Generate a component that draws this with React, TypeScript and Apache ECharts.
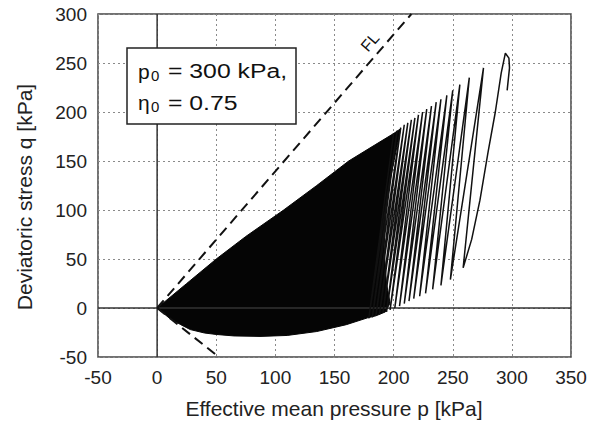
import React, { useEffect, useRef } from "react";
import * as echarts from "echarts";

// Axis ranges / ticks
const xMin = -50, xMax = 350, xStep = 50;
const yMin = -50, yMax = 300, yStep = 50;

// Initial loading hook and first unloading (p, q) starting from p0 = 300, q0 = 0.75 * p0
const hookP = [296, 298, 297.5, 294.5, 291, 286, 280, 273, 266];
const hookQ = [222, 245, 255, 260, 240, 200, 160, 110, 70];

// Cycle peaks and troughs
const bottomP = [258.8, 248, 240, 233, 227, 222, 217, 213, 209, 205, 201, 197, 194, 191, 188, 185, 182, 179];
const bottomQ = [41, 29, 23, 19, 15, 12, 9.5, 7, 4.5, 2, 0, -2, -4, -5, -6.5, -8, -9.5, -10.5];
const topP = [276, 264, 256, 250, 245, 240, 236, 232, 228, 224.5, 221, 218, 215, 212, 209, 206, 203, 200];
const topQ = [245, 235, 228, 222, 217, 213, 210, 206, 203, 200, 197, 194, 192, 189, 187, 184, 181, 178.5];

// Outline of the densely filled region (many overlapping cycles)
const denseP = [0, 10, 25, 50, 75, 107, 135, 162, 185, 200, 206, 202, 197, 193, 192, 194, 197, 193, 185, 178, 160, 135, 110, 87, 65, 50, 40, 28, 20, 10, 5];
const denseQ = [0, 10, 25, 50, 73, 100, 125, 150, 167, 178, 183, 160, 130, 100, 60, 25, 5, -4, -8, -10, -17, -24, -28, -29, -28.5, -27, -25.5, -22, -17, -10, -5];

// Reference lines
const flP = [0, 215];
const flQ = [0, 300];
const lowP = [0, 49];
const lowQ = [0, -47];

const FONT = '"Liberation Sans", Arial, Helvetica, sans-serif';

export default function App() {
  const ref = useRef<HTMLDivElement>(null);
  useEffect(() => {
    const chart = echarts.init(ref.current!, null, { renderer: "svg" });

    const path: number[][] = [];
    hookP.forEach((p, i) => path.push([p, hookQ[i]]));
    for (let i = 0; i < bottomP.length; i++) {
      path.push([bottomP[i], bottomQ[i]]);
      if (i < topP.length) path.push([topP[i], topQ[i]]);
    }
    const dense = denseP.map((p, i) => [p, denseQ[i]]);

    const label = { fontSize: 19, color: "#222", fontFamily: FONT };
    const split = { show: true, lineStyle: { type: [2, 3] as any, color: "#8a8a8a", width: 1 } };

    chart.setOption({
      animation: false,
      backgroundColor: "#fff",
      grid: { left: 98, top: 14, right: 32, bottom: 64, show: true, borderColor: "#444", borderWidth: 1.5, backgroundColor: "transparent" },
      xAxis: {
        type: "value", min: xMin, max: xMax, interval: xStep,
        axisLine: { show: false }, axisTick: { show: false },
        axisLabel: { ...label, margin: 11 }, splitLine: split,
      },
      yAxis: {
        type: "value", min: yMin, max: yMax, interval: yStep,
        axisLine: { show: false }, axisTick: { show: false },
        axisLabel: { ...label, margin: 11 }, splitLine: split,
      },
      series: [
        { type: "line", data: [[0, yMin], [0, yMax]], symbol: "none", lineStyle: { color: "#333", width: 1.5 }, silent: true },
        { type: "line", data: [[xMin, 0], [xMax, 0]], symbol: "none", lineStyle: { color: "#333", width: 1.5 }, silent: true },
        {
          type: "custom",
          data: [[0, 0]],
          renderItem: (_params: any, api: any) => ({
            type: "polygon",
            shape: { points: dense.map((d) => api.coord(d)) },
            style: { fill: "#050505", stroke: "#050505", lineWidth: 1 },
          }),
          silent: true,
        },
        { type: "line", data: path, symbol: "none", lineStyle: { color: "#111", width: 1.5 }, silent: true },
        { type: "line", data: flP.map((p, i) => [p, flQ[i]]), symbol: "none", lineStyle: { color: "#111", width: 2, type: [10, 6] }, silent: true },
        { type: "line", data: lowP.map((p, i) => [p, lowQ[i]]), symbol: "none", lineStyle: { color: "#111", width: 2, type: [10, 6] }, silent: true },
      ],
      graphic: [
        { type: "rect", shape: { x: 127, y: 48, width: 169, height: 76 }, style: { fill: "#fff", stroke: "#222", lineWidth: 1.5 }, z: 100 },
        { type: "text", x: 138, y: 71, z: 101, style: { text: "p", fontSize: 21, fontFamily: FONT, fill: "#111", verticalAlign: "middle" } },
        { type: "text", x: 151, y: 75, z: 101, style: { text: "0", fontSize: 15, fontFamily: FONT, fill: "#111", verticalAlign: "middle" } },
        { type: "text", x: 168, y: 71, scaleX: 1.18, z: 101, style: { text: "= 300 kPa,", fontSize: 21, fontFamily: FONT, fill: "#111", verticalAlign: "middle" } },
        { type: "text", x: 138, y: 102.5, z: 101, style: { text: "η", fontSize: 21, fontFamily: FONT, fill: "#111", verticalAlign: "middle" } },
        { type: "text", x: 151, y: 106.5, z: 101, style: { text: "0", fontSize: 15, fontFamily: FONT, fill: "#111", verticalAlign: "middle" } },
        { type: "text", x: 168, y: 102.5, scaleX: 1.18, z: 101, style: { text: "= 0.75", fontSize: 21, fontFamily: FONT, fill: "#111", verticalAlign: "middle" } },
        { type: "text", x: 370, y: 42, rotation: 0.855, z: 101, style: { text: "FL", fontSize: 16, fontFamily: FONT, fill: "#111", align: "center", verticalAlign: "middle" } },
        { type: "text", x: 24, y: 197, rotation: Math.PI / 2, z: 101, style: { text: "Deviatoric stress q [kPa]", fontSize: 21, fontFamily: FONT, fill: "#222", align: "center", verticalAlign: "middle" } },
        { type: "text", x: 334, y: 408, z: 101, style: { text: "Effective mean pressure p [kPa]", fontSize: 21, fontFamily: FONT, fill: "#222", align: "center", verticalAlign: "middle" } },
      ],
    });
    return () => chart.dispose();
  }, []);
  return <div ref={ref} style={{ position: "absolute", left: 0, top: 0, width: 603, height: 421 }} />;
}
